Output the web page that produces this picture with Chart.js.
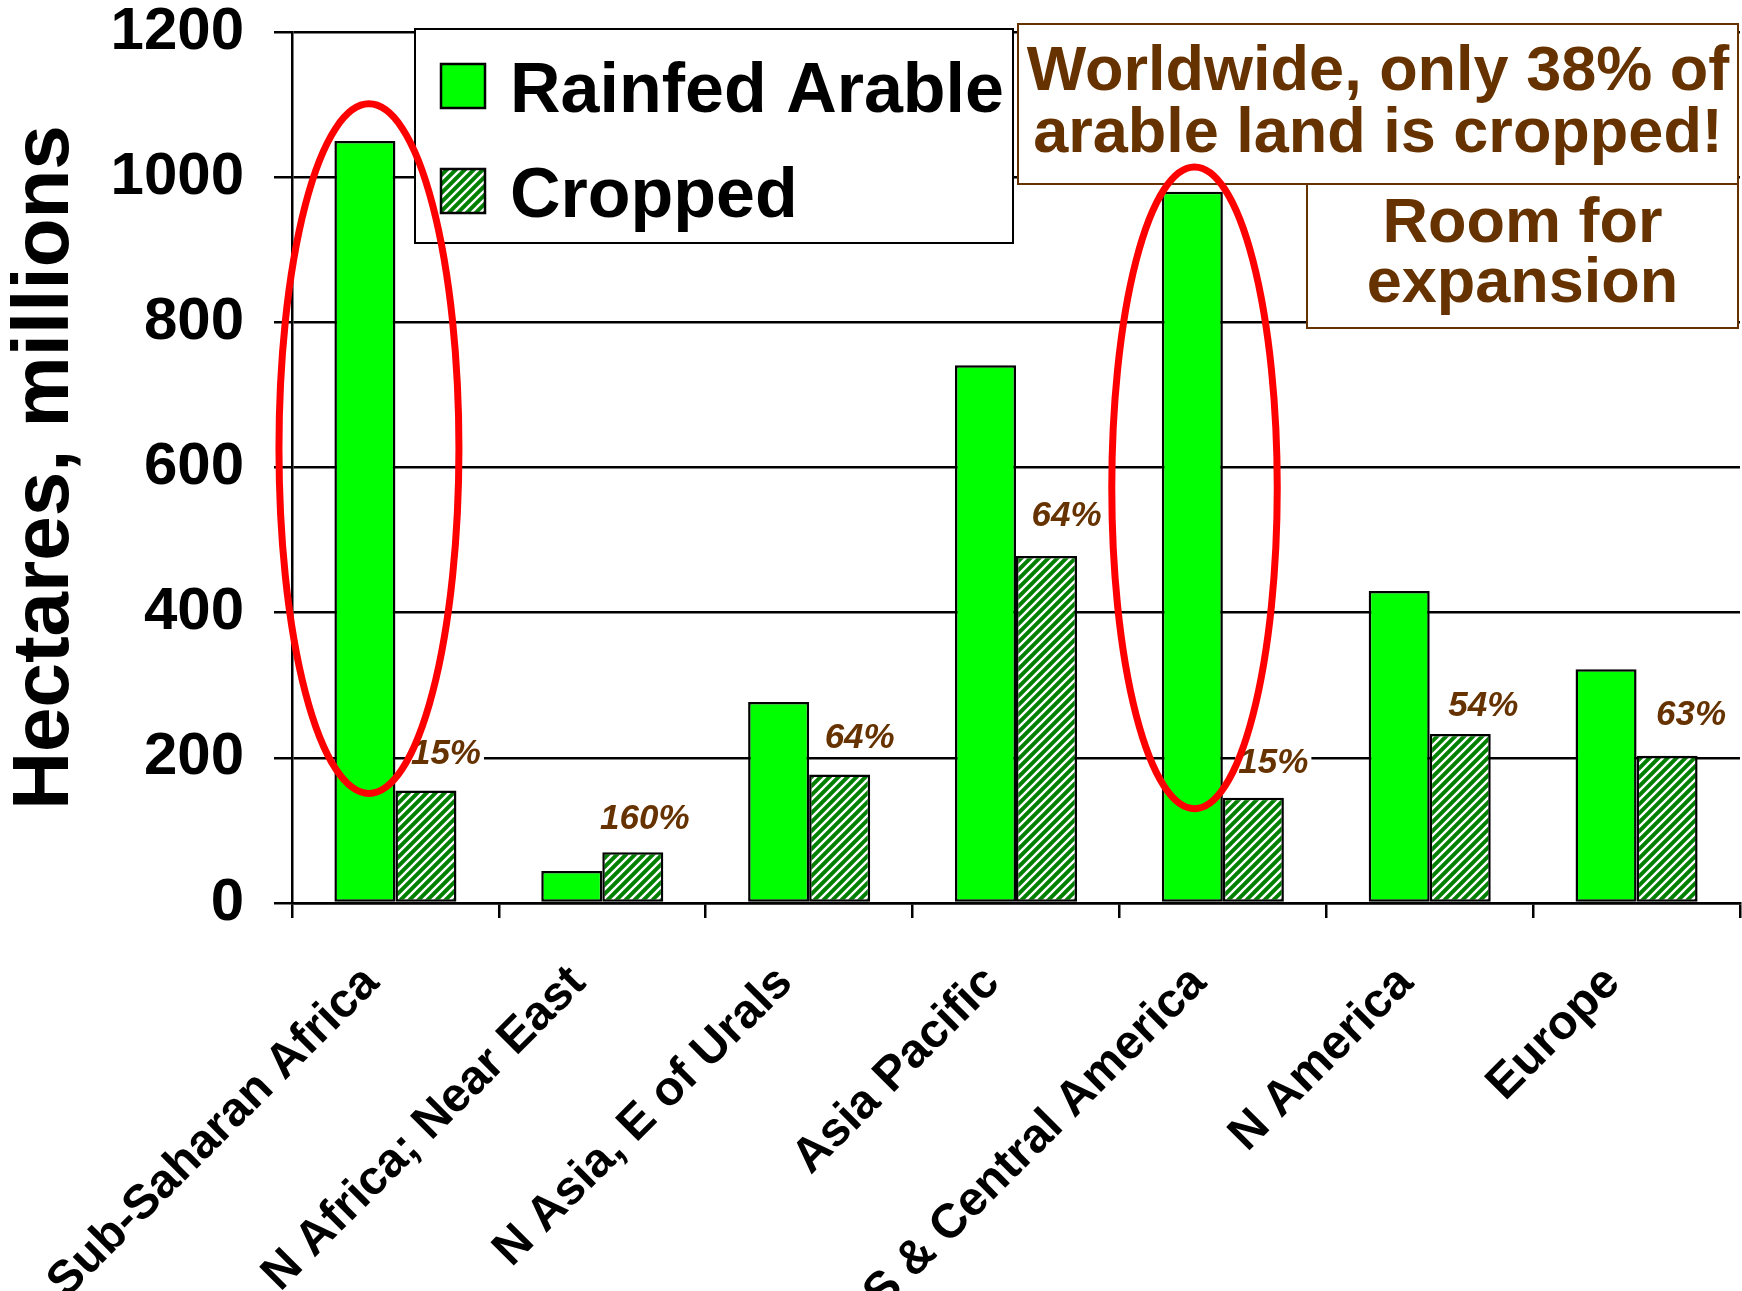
<!DOCTYPE html>
<html>
<head>
<meta charset="utf-8">
<title>Rainfed arable vs cropped land by region</title>
<script src="https://cdn.jsdelivr.net/npm/chart.js@4.4.1/dist/chart.umd.min.js"></script>
<style>
  html, body { margin: 0; padding: 0; background: #fff; }
  #wrap { width: 1742px; height: 1291px; position: relative; }
</style>
</head>
<body>
<div id="wrap"><canvas id="chart"></canvas></div>
<script>
// ---- data (hectares, millions) ----
const regions = [
  'Sub-Saharan Africa',
  'N Africa; Near East',
  'N Asia, E of Urals',
  'Asia Pacific',
  'S & Central America',
  'N America',
  'Europe'
];
const rainfedArable = [1050, 44, 277, 741, 980, 430, 322];
const cropped       = [155, 70, 177, 478, 145, 233, 203];
const croppedShare  = ['15%', '160%', '64%', '64%', '15%', '54%', '63%'];
const yTickValues   = [0, 200, 400, 600, 800, 1000, 1200];
const calloutMain   = ['Worldwide, only 38% of', 'arable land is cropped!'];
const calloutSub    = ['Room for', 'expansion'];

const FONT = '"Liberation Sans", Arial, Helvetica, sans-serif';
const BROWN = '#663300';
Chart.defaults.font.family = FONT;

const canvas = document.getElementById('chart');
const mainCtx = canvas.getContext('2d');

// diagonal green/white hatch for the cropped series
function makeHatch() {
  const s = 9;
  const tile = document.createElement('canvas');
  tile.width = s; tile.height = s;
  const g = tile.getContext('2d');
  g.fillStyle = '#008000';
  g.fillRect(0, 0, s, s);
  g.strokeStyle = '#ffffff';
  g.lineWidth = 2.4;
  g.beginPath();
  g.moveTo(-2, s + 2); g.lineTo(s + 2, -2);
  g.moveTo(-s / 2 - 2, s / 2 + 2); g.lineTo(s / 2 + 2, -s / 2 - 2);
  g.moveTo(s / 2 - 2, s * 1.5 + 2); g.lineTo(s * 1.5 + 2, s / 2 - 2);
  g.stroke();
  return mainCtx.createPattern(tile, 'repeat');
}
const hatch = makeHatch();

// percentage labels above the cropped bars
const shareLabels = {
  id: 'shareLabels',
  afterDatasetsDraw(chart, args, opts) {
    const ctx = chart.ctx;
    const meta = chart.getDatasetMeta(1);
    ctx.save();
    ctx.font = 'italic bold 35px ' + FONT;
    ctx.textAlign = 'center';
    ctx.textBaseline = 'middle';
    meta.data.forEach((bar, i) => {
      const txt = croppedShare[i];
      const n = opts.nudge[i] || [0, 0];
      const x = bar.x + 20 + n[0];
      const y = bar.y - 37 + n[1];
      const w = ctx.measureText(txt).width;
      ctx.fillStyle = '#fff';
      ctx.fillRect(x - w / 2 - 3, y - 17, w + 6, 34);
      ctx.fillStyle = BROWN;
      ctx.fillText(txt, x, y + 1);
    });
    ctx.restore();
  }
};

// legend box, callout boxes and highlight ellipses
const overlays = {
  id: 'overlays',
  afterDraw(chart, args, opts) {
    const ctx = chart.ctx;
    const ds = chart.data.datasets;
    ctx.save();

    // legend
    const L = opts.legend;
    ctx.fillStyle = '#fff';
    ctx.fillRect(L.x, L.y, L.w, L.h);
    ctx.strokeStyle = '#000';
    ctx.lineWidth = 2;
    ctx.strokeRect(L.x, L.y, L.w, L.h);
    ctx.font = 'bold 70px ' + FONT;
    ctx.textAlign = 'left';
    ctx.textBaseline = 'alphabetic';
    ds.forEach((d, i) => {
      const sy = L.y + L.first + i * L.step;
      ctx.fillStyle = d.backgroundColor;
      ctx.fillRect(L.x + 26, sy, 44, 44);
      ctx.strokeStyle = '#000';
      ctx.lineWidth = 2.5;
      ctx.strokeRect(L.x + 26, sy, 44, 44);
      ctx.fillStyle = '#000';
      ctx.fillText(d.label, L.x + 95, sy + 48);
    });

    // callout boxes
    opts.callouts.forEach(c => {
      ctx.fillStyle = '#fff';
      ctx.fillRect(c.x, c.y, c.w, c.h);
      ctx.strokeStyle = BROWN;
      ctx.lineWidth = 2;
      ctx.strokeRect(c.x, c.y, c.w, c.h);
      ctx.fillStyle = BROWN;
      ctx.font = 'bold 63px ' + FONT;
      ctx.textAlign = 'center';
      c.lines.forEach((t, k) => {
        ctx.fillText(t, c.x + c.w / 2, c.y + c.base + k * c.lead);
      });
    });

    // ellipses around the regions with most unused land
    const xs = chart.scales.x, ys = chart.scales.y;
    const catW = xs.width / regions.length;
    ctx.strokeStyle = '#ff0000';
    ctx.lineWidth = 7;
    opts.ellipses.forEach(e => {
      const cx = xs.getPixelForValue(e.index) + e.dx * catW;
      const top = ys.getPixelForValue(e.yMax);
      const bot = ys.getPixelForValue(e.yMin);
      ctx.beginPath();
      ctx.ellipse(cx, (top + bot) / 2, e.rx * catW, (bot - top) / 2, 0, 0, Math.PI * 2);
      ctx.stroke();
    });
    ctx.restore();
  }
};

new Chart(canvas, {
  type: 'bar',
  data: {
    labels: regions,
    datasets: [
      {
        label: 'Rainfed Arable',
        data: rainfedArable,
        backgroundColor: '#00ff00',
        borderColor: '#000',
        borderWidth: 2.5,
        borderSkipped: false
      },
      {
        label: 'Cropped',
        data: cropped,
        backgroundColor: hatch,
        borderColor: '#000',
        borderWidth: 2.5,
        borderSkipped: false
      }
    ]
  },
  options: {
    responsive: true,
    maintainAspectRatio: false,
    animation: false,
    devicePixelRatio: 1,
    layout: { padding: { top: 32, right: 2, left: 0, bottom: 0 } },
    datasets: { bar: { categoryPercentage: 0.59, barPercentage: 1 } },
    plugins: {
      legend: { display: false },
      tooltip: { enabled: false },
      shareLabels: {
        nudge: [[0, 0], [-8, 3], [0, 0], [0, -4], [0, 2], [3, 8], [4, -4]]
      },
      overlays: {
        legend: { x: 415, y: 29, w: 598, h: 214, first: 35, step: 105 },
        callouts: [
          { x: 1018, y: 24, w: 720, h: 160, base: 66, lead: 62, lines: calloutMain },
          { x: 1307, y: 184, w: 431, h: 144, base: 58, lead: 60, lines: calloutSub }
        ],
        ellipses: [
          { index: 0, dx: -0.128, rx: 0.435, yMin: 151, yMax: 1101 },
          { index: 4, dx: -0.137, rx: 0.40, yMin: 130, yMax: 1014 }
        ]
      }
    },
    scales: {
      x: {
        grid: {
          display: true, drawOnChartArea: false, drawTicks: true,
          tickLength: 15, color: '#000', lineWidth: 2.5, offset: true
        },
        border: { display: true, color: '#000', width: 2.5 },
        ticks: {
          color: '#000',
          font: { size: 48, weight: 'bold' },
          minRotation: 45, maxRotation: 45, autoSkip: false,
          padding: 37, labelOffset: -24
        },
        afterFit(scale) { scale.height = 388; }
      },
      y: {
        min: yTickValues[0],
        max: yTickValues[yTickValues.length - 1],
        afterBuildTicks(scale) { scale.ticks = yTickValues.map(v => ({ value: v })); },
        ticks: {
          color: '#000',
          font: { size: 60, weight: 'bold', lineHeight: 1 },
          padding: 30,
          callback: v => String(v)
        },
        grid: { color: '#000', lineWidth: 2.5, tickLength: 18, drawTicks: true },
        border: { display: true, color: '#000', width: 2.5 },
        title: {
          display: true,
          text: 'Hectares, millions',
          color: '#000',
          font: { size: 80, weight: 'bold', lineHeight: 1 },
          padding: { top: 6, bottom: 0 }
        },
        afterFit(scale) {
          scale.width = 292;
          scale.paddingTop = 0;
          scale.paddingBottom = 0;
        }
      }
    }
  },
  plugins: [shareLabels, overlays]
});
</script>
</body>
</html>
